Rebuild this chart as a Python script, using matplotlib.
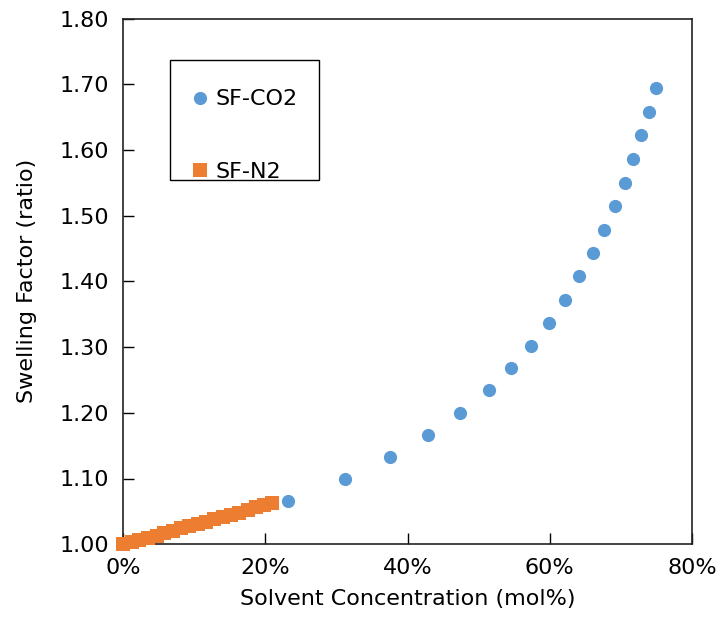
import matplotlib.pyplot as plt
from matplotlib.patches import Rectangle
from matplotlib.ticker import FuncFormatter

# SF-CO2 series (mol% solvent, swelling factor)
co2_x = [0.0, 23.2, 31.2, 37.6, 42.9, 47.4, 51.4, 54.6, 57.4, 59.9,
         62.2, 64.1, 66.1, 67.6, 69.2, 70.6, 71.7, 72.8, 74.0, 74.9]
co2_y = [1.000, 1.066, 1.100, 1.133, 1.166, 1.200, 1.234, 1.268, 1.302,
         1.337, 1.372, 1.408, 1.443, 1.478, 1.514, 1.550, 1.586, 1.622, 1.658, 1.695]

# SF-N2 series
n2_x = [0.0, 1.2, 2.3, 3.5, 4.7, 5.8, 7.0, 8.2, 9.3, 10.5, 11.7, 12.8,
        14.0, 15.2, 16.3, 17.5, 18.7, 19.8, 21.0]
n2_y = [1.000, 1.003, 1.007, 1.010, 1.013, 1.017, 1.020, 1.024, 1.027, 1.031,
        1.034, 1.038, 1.041, 1.045, 1.048, 1.052, 1.056, 1.059, 1.063]

fs = 16
fig = plt.figure(figsize=(7.2, 6.38), dpi=100)
ax = fig.add_axes([0.171, 0.147, 0.79, 0.824])

ax.plot(co2_x, co2_y, 'o', color='#5B9BD5', markersize=9.5, markeredgewidth=0,
        label='SF-CO2', zorder=3, clip_on=False)
ax.plot(n2_x, n2_y, 's', color='#ED7D31', markersize=9.5, markeredgewidth=0,
        label='SF-N2', zorder=4, clip_on=False)

ax.set_xlim(0, 80)
ax.set_ylim(1.0, 1.8)
ax.set_xticks([0, 20, 40, 60, 80])
ax.set_yticks([1.0 + 0.1 * i for i in range(9)])
ax.xaxis.set_major_formatter(FuncFormatter(lambda v, p: '%d%%' % round(v)))
ax.yaxis.set_major_formatter(FuncFormatter(lambda v, p: '%.2f' % v))
ax.tick_params(direction='in', length=8, width=1, labelsize=fs, pad=10,
               top=False, right=False)
for s in ax.spines.values():
    s.set_linewidth(1.2)
    s.set_color('#222222')

ax.set_xlabel('Solvent Concentration (mol%)', fontsize=fs, labelpad=8)
ax.set_ylabel('Swelling Factor (ratio)', fontsize=fs, labelpad=16)

# legend box drawn separately (Excel style: more room above first entry)
ax.add_patch(Rectangle((0.0826, 0.693), 0.261, 0.228, transform=ax.transAxes,
                       fill=False, edgecolor='black', linewidth=1.0, zorder=5))
ax.legend(loc='center left', bbox_to_anchor=(0.088, 0.777), fontsize=fs,
          frameon=False, labelspacing=2.37, handlelength=0.6,
          handletextpad=0.4, borderpad=0.9, borderaxespad=0)

fig.savefig('out.png', dpi=100)
